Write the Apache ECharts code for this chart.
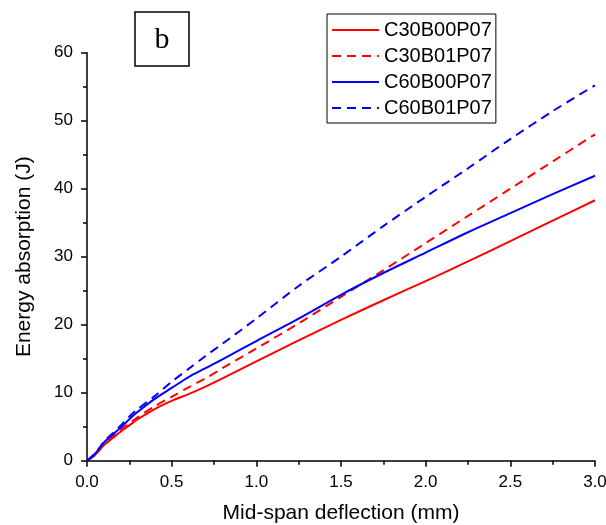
<!DOCTYPE html>
<html>
<head>
<meta charset="utf-8">
<script src="https://cdn.jsdelivr.net/npm/echarts@6/dist/echarts.min.js"></script>
<style>
  html, body { margin: 0; padding: 0; background: #fff; }
  #chart { width: 606px; height: 525px; }
</style>
</head>
<body>
<div id="chart"></div>
<script>
// Mid-span deflection (mm) sample points
const deflection = [0, 0.05, 0.1, 0.15, 0.2, 0.25, 0.3, 0.4, 0.5, 0.6, 0.7, 0.8, 1.0, 1.25, 1.5, 1.75, 2.0, 2.25, 2.5, 2.75, 3.0];

// Energy absorption (J) for each mix
const c30b00p07 = [0, 0.9, 2.3, 3.3, 4.3, 5.2, 6.1, 7.6, 8.8, 9.8, 10.9, 12.1, 14.6, 17.7, 20.7, 23.6, 26.4, 29.3, 32.3, 35.3, 38.3];
const c30b01p07 = [0, 0.9, 2.4, 3.5, 4.6, 5.5, 6.4, 8.0, 9.4, 10.8, 12.1, 13.6, 16.5, 20.2, 24.1, 28.0, 32.0, 36.0, 40.0, 44.0, 48.0];
const c60b00p07 = [0, 1.1, 2.7, 3.8, 4.9, 6.1, 7.2, 9.1, 10.7, 12.3, 13.6, 14.9, 17.6, 20.9, 24.4, 27.6, 30.6, 33.6, 36.4, 39.2, 41.9];
const c60b01p07 = [0, 1.1, 2.8, 4.0, 5.2, 6.5, 7.6, 9.5, 11.6, 13.5, 15.4, 17.2, 20.9, 25.7, 30.0, 34.5, 38.8, 43.0, 47.3, 51.4, 55.2];

const seriesNames = ['C30B00P07', 'C30B01P07', 'C60B00P07', 'C60B01P07'];
const seriesValues = [c30b00p07, c30b01p07, c60b00p07, c60b01p07];
const seriesColors = ['#ff0000', '#ff0000', '#0000ff', '#0000ff'];
const seriesDash = ['solid', [9, 6], 'solid', [9, 6]];

// Axis ticks
const xTicks = [0, 0.5, 1.0, 1.5, 2.0, 2.5, 3.0];
const yTicks = [0, 10, 20, 30, 40, 50, 60];

const FONT = '"Liberation Sans", Arial, sans-serif';

const chart = echarts.init(document.getElementById('chart'), null, { renderer: 'canvas' });

const axisCommon = {
  axisLine: { show: true, onZero: false, lineStyle: { color: '#000', width: 1.5 } },
  axisTick: { show: true, inside: false, length: 6, lineStyle: { color: '#000', width: 1.5 } },
  minorTick: { show: true, splitNumber: 2, length: 4, lineStyle: { color: '#000', width: 1.5 } },
  splitLine: { show: false },
  nameTextStyle: { fontFamily: FONT, fontSize: 21, color: '#000' }
};

chart.setOption({
  backgroundColor: '#fff',
  animation: false,
  grid: { left: 87, right: 11, top: 52.7, bottom: 64.3, containLabel: false, outerBoundsMode: 'none' },
  xAxis: Object.assign({}, axisCommon, {
    type: 'value',
    min: xTicks[0],
    max: xTicks[xTicks.length - 1],
    interval: 0.5,
    name: 'Mid-span deflection (mm)',
    nameLocation: 'middle',
    nameGap: 42,
    axisLabel: {
      margin: 13, fontFamily: FONT, fontSize: 17, color: '#000',
      formatter: v => v.toFixed(1)
    }
  }),
  yAxis: Object.assign({}, axisCommon, {
    type: 'value',
    min: yTicks[0],
    max: yTicks[yTicks.length - 1],
    interval: 10,
    name: 'Energy absorption (J)',
    nameLocation: 'middle',
    nameGap: 52,
    axisLabel: { margin: 14, fontFamily: FONT, fontSize: 17, color: '#000' }
  }),
  legend: {
    orient: 'vertical',
    left: 327,
    top: 14,
    padding: [6, 4, 5, 4],
    itemGap: 6,
    itemWidth: 47,
    itemHeight: 14,
    borderColor: '#000',
    borderWidth: 1,
    backgroundColor: '#fff',
    itemStyle: { opacity: 0 },
    textStyle: { fontFamily: FONT, fontSize: 20, color: '#000' },
    data: seriesNames
  },
  graphic: [
    {
      type: 'rect',
      shape: { x: 135, y: 12, width: 54, height: 54 },
      style: { fill: '#fff', stroke: '#000', lineWidth: 1.5 }
    },
    {
      type: 'text',
      x: 162, y: 40,
      style: {
        text: 'b', fontFamily: '"Liberation Serif", "Times New Roman", serif',
        fontSize: 30, fill: '#000', align: 'center', verticalAlign: 'middle'
      }
    }
  ],
  series: seriesNames.map((name, i) => ({
    name: name,
    type: 'line',
    smooth: 0.3,
    showSymbol: false,
    symbol: 'none',
    lineStyle: { color: seriesColors[i], width: 2, type: seriesDash[i] },
    itemStyle: { color: seriesColors[i] },
    data: deflection.map((x, k) => [x, seriesValues[i][k]])
  }))
});
</script>
</body>
</html>
